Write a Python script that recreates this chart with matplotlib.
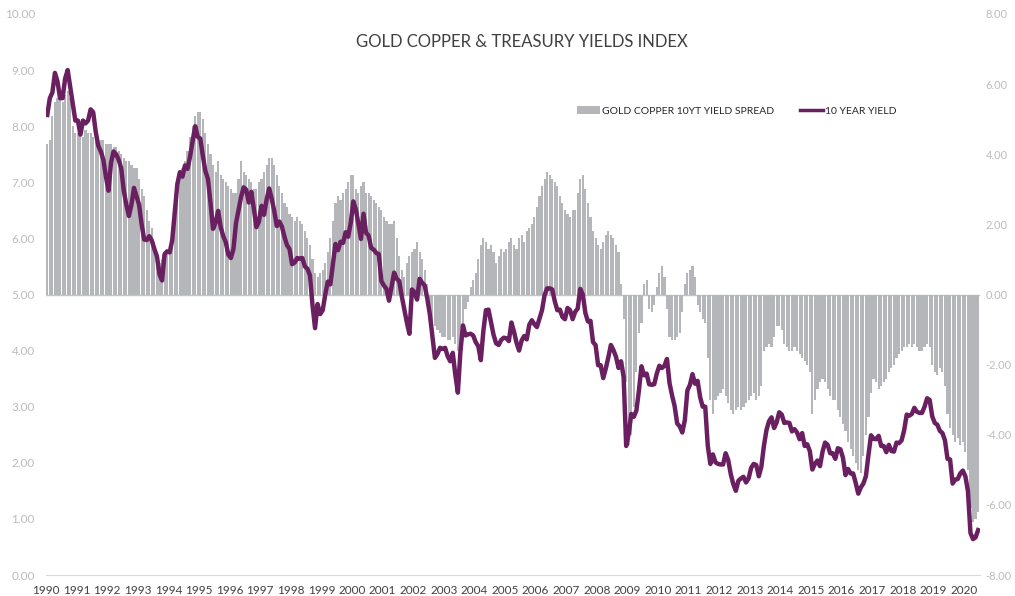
import numpy as np
import matplotlib
matplotlib.use("Agg")
import matplotlib.pyplot as plt
from matplotlib.patches import Patch
from matplotlib.lines import Line2D

plt.rcParams['font.family'] = ['Lato', 'DejaVu Sans']

# monthly values, Jan 1990 .. Jun 2020
yield_10y = [
    8.2, 8.5, 8.6, 8.95, 8.8, 8.5, 8.5, 8.85, 9.0, 8.7, 8.4, 8.1,        # 1990
    8.1, 7.85, 8.1, 8.05, 8.1, 8.3, 8.25, 7.9, 7.65, 7.55, 7.4, 7.1,     # 1991
    6.85, 7.35, 7.55, 7.5, 7.4, 7.25, 6.85, 6.6, 6.4, 6.6, 6.9, 6.75,    # 1992
    6.6, 6.25, 5.98, 5.97, 6.04, 5.96, 5.81, 5.68, 5.36, 5.25, 5.72, 5.77,  # 1993
    5.75, 5.97, 6.48, 6.97, 7.18, 7.10, 7.30, 7.24, 7.46, 7.74, 8.0, 7.81,  # 1994
    7.78, 7.47, 7.20, 7.06, 6.63, 6.17, 6.28, 6.49, 6.20, 6.04, 5.93, 5.71,  # 1995
    5.65, 5.81, 6.27, 6.51, 6.74, 6.91, 6.87, 6.64, 6.83, 6.53, 6.20, 6.30,  # 1996
    6.58, 6.42, 6.69, 6.89, 6.71, 6.49, 6.22, 6.30, 6.21, 6.03, 5.88, 5.81,  # 1997
    5.54, 5.57, 5.65, 5.64, 5.65, 5.50, 5.46, 5.34, 4.81, 4.40, 4.83, 4.65,  # 1998
    4.72, 5.00, 5.23, 5.18, 5.54, 5.90, 5.79, 5.94, 5.92, 6.11, 6.03, 6.28,  # 1999
    6.66, 6.52, 6.26, 5.99, 6.44, 6.10, 6.05, 5.83, 5.80, 5.74, 5.72, 5.24,  # 2000
    5.16, 5.10, 4.89, 5.14, 5.39, 5.28, 5.24, 4.97, 4.73, 4.50, 4.30, 5.09,  # 2001
    5.04, 4.91, 5.28, 5.21, 5.16, 4.93, 4.65, 4.26, 3.87, 3.94, 4.05, 4.03,  # 2002
    4.05, 3.90, 3.81, 3.96, 3.57, 3.25, 3.98, 4.45, 4.27, 4.29, 4.30, 4.27,  # 2003
    4.15, 4.08, 3.83, 4.35, 4.72, 4.73, 4.50, 4.28, 4.13, 4.10, 4.19, 4.23,  # 2004
    4.22, 4.17, 4.50, 4.34, 4.14, 4.00, 4.18, 4.26, 4.20, 4.46, 4.54, 4.47,  # 2005
    4.42, 4.57, 4.72, 4.99, 5.11, 5.11, 5.09, 4.88, 4.72, 4.73, 4.60, 4.56,  # 2006
    4.76, 4.72, 4.56, 4.69, 4.75, 5.10, 5.00, 4.67, 4.52, 4.53, 4.15, 4.10,  # 2007
    3.74, 3.74, 3.51, 3.68, 3.88, 4.10, 4.01, 3.89, 3.69, 3.81, 3.53, 2.30,  # 2008
    2.52, 2.87, 2.82, 2.93, 3.29, 3.72, 3.56, 3.59, 3.40, 3.39, 3.40, 3.59,  # 2009
    3.73, 3.69, 3.73, 3.85, 3.42, 3.20, 3.01, 2.70, 2.65, 2.54, 2.76, 3.29,  # 2010
    3.39, 3.58, 3.41, 3.46, 3.17, 3.00, 3.00, 2.30, 1.98, 2.15, 2.01, 1.98,  # 2011
    1.97, 1.97, 2.17, 2.05, 1.80, 1.62, 1.50, 1.68, 1.72, 1.75, 1.65, 1.72,  # 2012
    1.91, 1.98, 1.96, 1.76, 1.93, 2.30, 2.58, 2.74, 2.81, 2.62, 2.72, 2.90,  # 2013
    2.86, 2.71, 2.72, 2.71, 2.56, 2.60, 2.54, 2.42, 2.53, 2.30, 2.33, 2.21,  # 2014
    1.88, 1.98, 2.04, 1.94, 2.20, 2.36, 2.32, 2.17, 2.17, 2.07, 2.26, 2.24,  # 2015
    2.09, 1.78, 1.89, 1.81, 1.81, 1.64, 1.45, 1.56, 1.63, 1.76, 2.14, 2.49,  # 2016
    2.43, 2.42, 2.48, 2.30, 2.30, 2.19, 2.32, 2.21, 2.20, 2.36, 2.35, 2.40,  # 2017
    2.58, 2.86, 2.84, 2.87, 2.98, 2.91, 2.89, 2.89, 3.00, 3.15, 3.12, 2.83,  # 2018
    2.71, 2.68, 2.57, 2.53, 2.40, 2.07, 2.06, 1.63, 1.70, 1.71, 1.81, 1.86,  # 2019
    1.76, 1.50, 0.75, 0.64, 0.67, 0.80,                                   # 2020
]

spread = [
    4.3, 4.4, 5.1, 5.5, 5.6, 5.6, 5.5, 5.7, 5.8, 5.6, 4.8, 4.6,          # 1990
    4.6, 4.6, 4.5, 4.7, 4.6, 4.6, 4.5, 4.5, 4.4, 4.4, 4.4, 4.3,          # 1991
    4.3, 4.3, 4.2, 4.2, 4.1, 4.0, 3.9, 3.8, 3.8, 3.7, 3.6, 3.6,          # 1992
    3.3, 3.0, 2.8, 2.4, 2.1, 1.9, 1.5, 1.1, 0.9, 1.0, 1.1, 1.2,          # 1993
    1.3, 1.6, 2.3, 2.9, 3.3, 3.6, 3.8, 4.1, 4.5, 4.8, 5.1, 5.2,          # 1994
    5.2, 5.0, 4.6, 4.3, 4.0, 3.7, 3.5, 3.8, 3.4, 3.3, 3.2, 3.1,          # 1995
    3.0, 2.9, 2.9, 3.3, 3.8, 3.5, 3.4, 3.3, 3.2, 3.0, 3.0, 3.2,          # 1996
    3.3, 3.5, 3.7, 3.9, 3.9, 3.7, 3.4, 3.1, 2.9, 2.6, 2.5, 2.3,          # 1997
    2.2, 2.1, 2.2, 2.1, 2.0, 1.8, 1.6, 1.4, 1.0, 0.6, 0.5, 0.6,          # 1998
    0.7, 0.9, 1.2, 1.6, 2.1, 2.6, 2.8, 2.7, 2.9, 3.0, 3.2, 3.4,          # 1999
    3.4, 3.0, 2.9, 3.1, 3.2, 2.9, 2.9, 2.8, 2.7, 2.6, 2.5, 2.4,          # 2000
    2.2, 2.1, 2.0, 2.0, 2.1, 1.6, 1.1, 0.7, 0.5, 0.9, 1.1, 1.2,          # 2001
    1.3, 1.5, 1.2, 1.0, 0.7, 0.3, -0.5, -0.8, -0.9, -1.0, -1.1, -1.2,    # 2002
    -1.2, -1.3, -1.3, -1.2, -1.4, -1.6, -1.5, -0.8, -0.4, -0.2, 0.2, 0.4,  # 2003
    0.6, 1.0, 1.4, 1.6, 1.5, 1.3, 1.4, 1.2, 0.9, 1.1, 1.3, 1.2,          # 2004
    1.3, 1.5, 1.6, 1.4, 1.3, 1.6, 1.7, 1.5, 1.8, 1.9, 2.0, 2.2,          # 2005
    2.5, 2.8, 3.1, 3.3, 3.5, 3.4, 3.3, 3.2, 3.1, 2.8, 2.6, 2.4,          # 2006
    2.3, 2.2, 2.4, 2.4, 2.9, 3.3, 3.4, 3.0, 2.6, 2.2, 1.8, 1.6,          # 2007
    1.4, 1.3, 1.5, 1.7, 1.8, 1.7, 1.6, 1.4, 1.2, 0.3, -0.7, -2.5,        # 2008
    -4.3, -4.0, -3.2, -2.2, -1.1, -0.8, 0.3, 0.4, -0.4, -0.5, -0.3, 0.2,  # 2009
    0.6, 0.8, 0.5, -0.4, -1.2, -1.3, -1.3, -1.2, -1.1, -0.5, 0.3, 0.6,   # 2010
    0.7, 0.8, 0.5, -0.3, -0.5, -0.7, -0.8, -1.8, -3.0, -3.4, -3.0, -2.9,  # 2011
    -2.8, -2.7, -2.9, -3.1, -3.3, -3.4, -3.3, -3.2, -3.3, -3.2, -3.1, -3.0,  # 2012
    -2.9, -2.8, -3.0, -2.9, -2.6, -1.6, -1.5, -1.4, -1.5, -1.2, -0.9, -0.9,  # 2013
    -1.0, -1.4, -1.5, -1.6, -1.6, -1.5, -1.6, -1.7, -1.8, -1.9, -2.0, -2.2,  # 2014
    -3.4, -3.0, -2.7, -2.5, -2.4, -2.5, -2.7, -2.9, -3.0, -3.0, -3.3, -3.5,  # 2015
    -3.7, -3.9, -4.2, -4.4, -4.6, -4.8, -5.0, -5.1, -4.6, -4.0, -3.5, -2.8,  # 2016
    -2.4, -2.5, -2.7, -2.6, -2.5, -2.4, -2.2, -2.1, -2.0, -1.8, -1.7, -1.6,  # 2017
    -1.5, -1.5, -1.4, -1.5, -1.4, -1.5, -1.6, -1.6, -1.5, -1.4, -1.5, -2.0,  # 2018
    -2.2, -2.3, -2.1, -2.2, -2.6, -3.4, -3.8, -4.0, -4.2, -4.1, -4.3, -4.2,  # 2019
    -4.5, -5.0, -6.1, -6.5, -6.4, -6.2,                                   # 2020
]

years = list(range(1990, 2021))

t = 1990 + (np.arange(len(yield_10y)) + 0.5) / 12.0

gray = '#b5b6b9'
purple = '#6a2060'

fig = plt.figure(figsize=(10.15, 5.96), dpi=100)
ax = fig.add_axes([46 / 1015, 21 / 596, 934 / 1015, 561 / 596])
ax2 = ax.twinx()

# bars on the right (spread) axis, line in front on the left axis
ax2.bar(t, spread, width=0.07, color=gray, edgecolor='none', zorder=2)
ax2.axhline(0, color='#c4c4c4', lw=1, zorder=1)
ax.plot(t, yield_10y, color=purple, lw=3.2, solid_joinstyle='round', zorder=3)
ax.set_zorder(ax2.get_zorder() + 1)
ax.patch.set_visible(False)

ax.set_xlim(1990, 2020.52)
ax.set_ylim(0, 10)
ax2.set_ylim(-8, 8)

ax.set_yticks(np.arange(0, 11, 1))
ax.set_yticklabels([f"{v:.2f}" for v in np.arange(0, 11, 1)])
ax2.set_yticks(np.arange(-8, 9, 2))
ax2.set_yticklabels([f"{v:.2f}" for v in np.arange(-8, 9, 2)])
ax.set_xticks(years)
ax.set_xticklabels([str(y) for y in years])

for a in (ax, ax2):
    for s in a.spines.values():
        s.set_visible(False)
    a.tick_params(length=0)
ax.spines['bottom'].set_visible(True)
ax.spines['bottom'].set_color('#d9d9d9')
ax.tick_params(axis='y', colors='#bcbcbc', labelsize=8.5, pad=8)
ax2.tick_params(axis='y', colors='#bcbcbc', labelsize=8, pad=4)
ax.tick_params(axis='x', colors='#404040', labelsize=8.5, pad=7)

fig.text(522 / 1015, 1 - 42 / 596, "GOLD COPPER & TREASURY YIELDS INDEX",
         ha='center', va='center', fontsize=12, color='#404040')

handles = [Patch(facecolor=gray, edgecolor='none'),
           Line2D([], [], color=purple, lw=2.5)]
fig.legend(handles, ["GOLD COPPER 10YT YIELD SPREAD", "10 YEAR YIELD"],
           loc='center', bbox_to_anchor=(737 / 1015, 1 - 111 / 596), ncol=2,
           frameon=False, fontsize=7.5, handlelength=2.2, handletextpad=0.2,
           columnspacing=2.5, labelcolor='#262626')

fig.savefig("out.png", dpi=100)
